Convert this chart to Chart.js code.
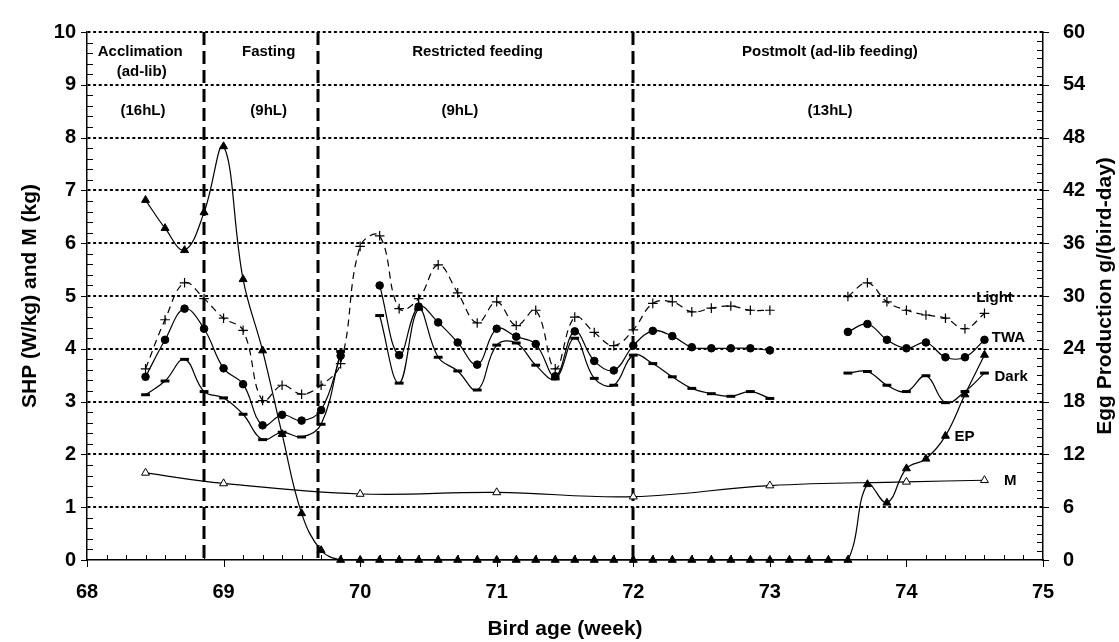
<!DOCTYPE html>
<html>
<head>
<meta charset="utf-8">
<script src="https://cdn.jsdelivr.net/npm/chart.js@4.4.0/dist/chart.umd.min.js"></script>
<style>
html,body{margin:0;padding:0;background:#fff;}
canvas{display:block;}
</style>
</head>
<body>
<canvas id="c" width="1119" height="642"></canvas>
<script>
// ---------------- DATA ----------------
// bird age in days (x axis is shown in weeks = days / 7)
const ageDays = [479,480,481,482,483,484,485,486,487,488,489,490,491,492,493,494,495,496,497,498,499,500,
                 501,502,503,504,505,506,507,508,509,510,511,512,513,514,515,516,517,518,519,520,521,522];

// SHP, light period (W/kg)
const shpLight = [3.62,4.55,5.25,4.95,4.58,4.35,3.02,3.31,3.14,3.31,3.72,5.94,6.14,4.76,4.95,5.59,5.06,4.49,4.89,4.44,4.73,3.62,
                  4.60,4.31,4.06,4.36,4.86,4.89,4.70,4.77,4.81,4.73,4.73,null,null,null,4.99,5.25,4.89,4.73,4.64,4.58,4.38,4.67];
// SHP, time weighted average (W/kg)
const shpTWA   = [3.47,4.17,4.76,4.38,3.63,3.33,2.55,2.75,2.64,2.84,3.87,null,5.20,3.88,4.80,4.50,4.12,3.70,4.38,4.23,4.09,3.48,
                  4.33,3.77,3.59,4.06,4.34,4.24,4.03,4.01,4.01,4.01,3.97,null,null,null,4.32,4.47,4.17,4.01,4.12,3.84,3.84,4.17];
// SHP, dark period (W/kg)
const shpDark  = [3.13,3.39,3.80,3.19,3.07,2.76,2.28,2.42,2.33,2.57,3.95,null,4.63,3.35,4.75,3.84,3.58,3.22,4.07,4.11,3.69,3.43,
                  4.20,3.44,3.31,3.88,3.72,3.47,3.25,3.15,3.10,3.19,3.06,null,null,null,3.54,3.57,3.31,3.19,3.49,2.98,3.19,3.54];
// Egg production g/(bird-day)
const eggProd  = [40.9,37.7,35.2,39.5,47.0,31.9,23.8,14.3,5.3,1.1,0,0,0,0,0,0,0,0,0,0,0,0,
                  0,0,0,0,0,0,0,0,0,0,0,0,0,0,0,8.6,6.5,10.4,11.5,14.1,18.8,23.3];
// Body mass M (kg)
const bodyMass = [1.65,null,null,null,1.45,null,null,null,null,null,null,1.25,null,null,null,null,null,null,1.28,null,null,null,
                  null,null,null,1.20,null,null,null,null,null,null,1.41,null,null,null,null,null,null,1.48,null,null,null,1.51];

const xTickLabels = [68,69,70,71,72,73,74,75];
const leftTickLabels = [0,1,2,3,4,5,6,7,8,9,10];
const rightTickLabels = [0,6,12,18,24,30,36,42,48,54,60];

// phase boundaries (weeks)
const phaseBounds = [68.86, 69.69, 72];

// text notes: [text, x(week), y(left axis units)]
const phaseNotes = [
  ['Acclimation', 68.39, 9.63], ['(ad-lib)', 68.40, 9.24], ['(16hL)', 68.41, 8.51],
  ['Fasting', 69.33, 9.63], ['(9hL)', 69.33, 8.51],
  ['Restricted feeding', 70.86, 9.63], ['(9hL)', 70.73, 8.51],
  ['Postmolt (ad-lib feeding)', 73.44, 9.63], ['(13hL)', 73.44, 8.51]
];
const seriesNotes = [
  ['Light', 74.645, 4.96], ['TWA', 74.747, 4.20], ['Dark', 74.767, 3.46], ['EP', 74.425, 2.33], ['M', 74.76, 1.50]
];
const rightTitle = 'Egg Production g/(bird-day)';

// ---------------- CHART ----------------
const FONT = '"Liberation Sans", Arial, Helvetica, sans-serif';
Chart.defaults.font.family = FONT;
Chart.defaults.color = '#000';

const weeks = ageDays.map(d => d / 7);
const pts = arr => arr.map((v, i) => ({x: weeks[i], y: v}));

const decor = {
  id: 'decor',
  beforeDatasetsDraw(chart) {
    const {ctx, chartArea: a, scales: {x, y, y2}} = chart;
    ctx.save();
    // phase boundaries
    ctx.strokeStyle = '#000';
    ctx.lineWidth = 3;
    ctx.setLineDash([13, 6]);
    phaseBounds.forEach(v => {
      const px = Math.round(x.getPixelForValue(v));
      ctx.beginPath(); ctx.moveTo(px, a.top); ctx.lineTo(px, a.bottom); ctx.stroke();
    });
    ctx.setLineDash([]);
    ctx.lineWidth = 1;
    ctx.beginPath();
    // left axis: minor inside, major outside
    for (let k = 0; k <= 50; k++) {
      const py = Math.round(y.getPixelForValue(k / 5)) + 0.5;
      if (k % 5 === 0) { ctx.moveTo(a.left - 6, py); ctx.lineTo(a.left, py); }
      else { ctx.moveTo(a.left, py); ctx.lineTo(a.left + 6, py); }
    }
    // right axis
    for (let k = 0; k <= 60; k++) {
      const py = Math.round(y2.getPixelForValue(k)) + 0.5;
      if (k % 6 === 0) { ctx.moveTo(a.right, py); ctx.lineTo(a.right + 6, py); }
      else { ctx.moveTo(a.right - 6, py); ctx.lineTo(a.right, py); }
    }
    // x axis: day minor ticks inside, week major ticks outside
    for (let k = 0; k <= 49; k++) {
      const px = Math.round(x.getPixelForValue(68 + k / 7)) + 0.5;
      if (k % 7 === 0) { ctx.moveTo(px, a.bottom); ctx.lineTo(px, a.bottom + 7); }
      else { ctx.moveTo(px, a.bottom - 5); ctx.lineTo(px, a.bottom); }
    }
    ctx.stroke();
    ctx.restore();
  },
  afterDatasetsDraw(chart) {
    const {ctx, chartArea: a, scales: {x, y, y2}} = chart;
    ctx.save();
    ctx.fillStyle = '#000';
    ctx.textAlign = 'center';
    ctx.textBaseline = 'middle';
    ctx.font = 'bold 15px ' + FONT;
    phaseNotes.concat(seriesNotes).forEach(([t, vx, vy]) => {
      ctx.fillText(t, x.getPixelForValue(vx), y.getPixelForValue(vy));
    });
    // right axis title, reading bottom to top
    ctx.font = 'bold 21px ' + FONT;
    ctx.translate(y2.right - 14, (a.top + a.bottom) / 2);
    ctx.rotate(-Math.PI / 2);
    ctx.fillText(rightTitle, 0, 0);
    ctx.restore();
  }
};

const common = {borderColor: '#000', borderWidth: 1.2, tension: 0.4, pointBorderColor: '#000', pointBackgroundColor: '#000'};

new Chart(document.getElementById('c'), {
  type: 'line',
  data: {
    datasets: [
      Object.assign({}, common, {label: 'Light', data: pts(shpLight), yAxisID: 'y', borderDash: [7, 5],
        pointStyle: 'cross', pointRadius: 4.8, pointBorderWidth: 1.2}),
      Object.assign({}, common, {label: 'TWA', data: pts(shpTWA), yAxisID: 'y',
        pointStyle: 'circle', pointRadius: 3.8, pointBorderWidth: 1}),
      Object.assign({}, common, {label: 'Dark', data: pts(shpDark), yAxisID: 'y',
        pointStyle: 'line', pointRadius: 4.4, pointBorderWidth: 3}),
      Object.assign({}, common, {label: 'M', data: pts(bodyMass), yAxisID: 'y', spanGaps: true,
        pointStyle: 'triangle', pointRadius: 4.6, pointBorderWidth: 1, pointBackgroundColor: '#fff'}),
      Object.assign({}, common, {label: 'EP', data: pts(eggProd), yAxisID: 'y2', clip: false,
        pointStyle: 'triangle', pointRadius: 4.6, pointBorderWidth: 1})
    ]
  },
  options: {
    responsive: false,
    animation: false,
    events: [],
    layout: {padding: {top: 20, left: 0, right: 0, bottom: 0}},
    plugins: {legend: {display: false}, tooltip: {enabled: false}},
    scales: {
      x: {
        type: 'linear', min: xTickLabels[0], max: xTickLabels[xTickLabels.length - 1],
        afterBuildTicks: s => { s.ticks = xTickLabels.map(v => ({value: v})); },
        afterFit: s => { s.height = 82; },
        grid: {display: false, drawTicks: false},
        border: {display: true, color: '#000', width: 1.5},
        ticks: {padding: 20, autoSkip: false, maxRotation: 0, font: {size: 20, weight: 'bold'}, callback: v => String(v)},
        title: {display: true, text: 'Bird age (week)', font: {size: 21, weight: 'bold'}, padding: {top: 0, bottom: 0}}
      },
      y: {
        type: 'linear', position: 'left', min: 0, max: 10,
        afterBuildTicks: s => { s.ticks = leftTickLabels.map(v => ({value: v})); },
        afterFit: s => { s.width = 87; },
        grid: {display: true, drawTicks: false, lineWidth: 2,
               color: c => (c.tick && c.tick.value === 0) ? 'rgba(0,0,0,0)' : '#000'},
        border: {display: true, color: '#000', width: 1.5, dash: [3, 2.6]},
        ticks: {padding: 11, autoSkip: false, font: {size: 20, weight: 'bold'}, callback: v => String(v)},
        title: {display: true, text: 'SHP (W/kg) and M (kg)', font: {size: 21, weight: 'bold'}, padding: {top: 18, bottom: 0}}
      },
      y2: {
        type: 'linear', position: 'right', min: 0, max: 60,
        afterBuildTicks: s => { s.ticks = rightTickLabels.map(v => ({value: v})); },
        afterFit: s => { s.width = 76; },
        grid: {display: false, drawTicks: false},
        border: {display: true, color: '#000', width: 1.5},
        ticks: {padding: 20, autoSkip: false, font: {size: 20, weight: 'bold'}, callback: v => String(v)},
        title: {display: false}
      }
    }
  },
  plugins: [decor]
});
</script>
</body>
</html>
